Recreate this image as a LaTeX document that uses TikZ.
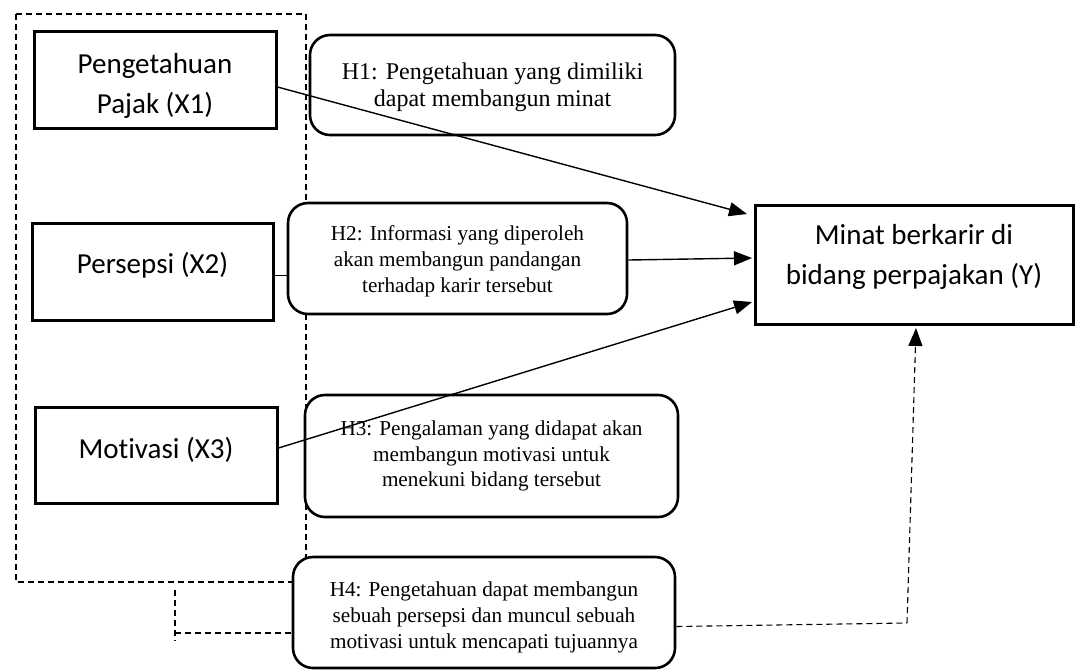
\documentclass[tikz,border=0pt]{standalone}
\usepackage{fontspec}
\setmainfont{Liberation Serif}
\newfontfamily\calfont[Ligatures=NoCommon]{Carlito}
\usetikzlibrary{arrows.meta}
\newcommand{\shiftlines}[2]{\raisebox{#1}[\height][\depth]{\begin{tabular}{@{}c@{}}#2\end{tabular}}}
\begin{document}
\begin{tikzpicture}[x=0.5pt,y=-0.5pt,
  xbox/.style={draw=black, line width=1.5pt, fill=white, inner sep=0pt, align=center,
    font=\calfont\fontsize{14.5}{20}\selectfont},
  hbox/.style={draw=black, line width=1.3pt, fill=white, rounded corners=10pt, inner sep=0pt, align=center,
    font=\fontsize{10.6}{12.9}\selectfont},
  arr/.style={line width=0.7pt, -{Triangle[length=9pt,width=7pt]}},
  dsh/.style={line width=0.55pt, dash pattern=on 3pt off 2pt},
]
\useasboundingbox (0,0) rectangle (1080,671);
% dashed enclosing frame
\draw[dsh] (16,14) rectangle (306,582);
% variable boxes
\node[xbox, minimum width=121pt, minimum height=48.5pt] (x1) at (155,79.5) {\shiftlines{-3pt}{Pengetahuan\\Pajak (X1)}};
\node[xbox, minimum width=120.5pt, minimum height=48.5pt] (x2) at (152.5,271.5) {\shiftlines{3pt}{Persepsi (X2)}};
\node[xbox, minimum width=121pt, minimum height=48pt] (x3) at (156,455) {\shiftlines{2.5pt}{Motivasi (X3)}};
\node[xbox, minimum width=159pt, minimum height=59.5pt] (y) at (914,264.5) {\shiftlines{4pt}{Minat berkarir di\\bidang perpajakan (Y)}};
% hypothesis boxes
\node[hbox, font=\fontsize{12}{13.5}\selectfont, minimum width=182.5pt, minimum height=50pt] (h1) at (492.5,85) {\shiftlines{-1.5pt}{H1: Pengetahuan yang dimiliki\\dapat membangun minat}};
\node[hbox, minimum width=169.5pt, minimum height=55.5pt] (h2) at (457.5,258.5) {\shiftlines{-1.5pt}{H2: Informasi yang diperoleh\\akan membangun pandangan\\terhadap karir tersebut}};
\node[hbox, minimum width=186.5pt, minimum height=61pt] (h3) at (491.5,456) {\shiftlines{0pt}{H3: Pengalaman yang didapat akan\\membangun motivasi untuk\\menekuni bidang tersebut}};
\node[hbox, minimum width=191pt, minimum height=55.5pt] (h4) at (484,612.5) {\shiftlines{-2.5pt}{H4: Pengetahuan dapat membangun\\sebuah persepsi dan muncul sebuah\\motivasi untuk mencapati tujuannya}};
% arrow targets
\coordinate (t1) at (747,214);
\coordinate (t2) at (752,258);
\coordinate (t3) at (752,302);
\coordinate (t4) at (916,328);
\coordinate (c4) at (907,623);
\coordinate (b1) at (175,590);
\coordinate (b2) at (175,641);
\coordinate (b3) at (175,633);
% solid connectors
\draw[arr] ([yshift=-3.75pt]x1.east) -- (t1);
\draw[line width=0.7pt] ([yshift=-2pt]x2.east) -- ([yshift=-2pt]x2.east -| h2.west);
\draw[arr] ([yshift=-0.75pt]h2.east) -- (t2);
\draw[arr] ([yshift=3.5pt]x3.east) -- (t3);
% dashed connectors
\draw[dsh] (b1) -- (b2);
\draw[dsh] (b3) -- (b3 -| h4.west);
\draw[dsh] ([yshift=-7pt]h4.east) -- (c4);
\draw[dsh, -{Triangle[length=9pt,width=7pt]}] (c4) -- (t4);
\end{tikzpicture}
\end{document}
